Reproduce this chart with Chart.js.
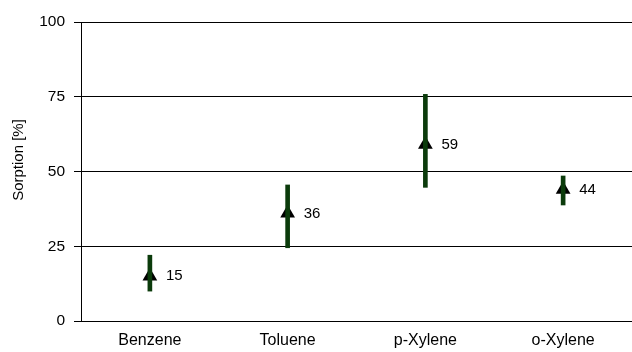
<!DOCTYPE html>
<html>
<head>
<meta charset="utf-8">
<script src="https://cdn.jsdelivr.net/npm/chart.js@4/dist/chart.umd.min.js"></script>
<style>
  body { margin: 0; background: #fff; }
  canvas { display: block; }
</style>
</head>
<body>
<canvas id="sorptionChart" width="632" height="352"></canvas>
<script>
// data
const categories = ["Benzene", "Toluene", "p-Xylene", "o-Xylene"];
const meanValues = [15, 36, 59, 44];
const rangeLow = [10, 24.5, 44.7, 38.8];
const rangeHigh = [22, 45.5, 75.8, 48.5];
const yTicks = [0, 25, 50, 75, 100];
const yTitle = "Sorption [%]";

const FONT = "'Liberation Sans', Arial, sans-serif";
const green = "#0b3b0b";

// value labels next to the triangles + rotated axis title
const extras = {
  id: "extras",
  afterDatasetsDraw(chart) {
    const ctx = chart.ctx;
    const meta = chart.getDatasetMeta(1);
    ctx.save();
    ctx.font = "15px " + FONT;
    ctx.fillStyle = "#000";
    ctx.textBaseline = "middle";
    ctx.textAlign = "left";
    meta.data.forEach((pt, i) => {
      ctx.fillText(String(meanValues[i]), pt.x + 16, pt.y);
    });
    // y axis title
    ctx.translate(19, 160);
    ctx.rotate(-Math.PI / 2);
    ctx.textAlign = "center";
    ctx.fillText(yTitle, 0, 0);
    ctx.restore();
  }
};

const ranges = categories.map((c, i) => [rangeLow[i], rangeHigh[i]]);

new Chart(document.getElementById("sorptionChart"), {
  type: "bar",
  data: {
    labels: categories,
    datasets: [
      {
        label: "Range",
        data: ranges,
        backgroundColor: green,
        borderWidth: 0,
        borderSkipped: false,
        barThickness: 4
      },
      {
        type: "line",
        label: "Mean",
        data: meanValues,
        showLine: false,
        pointStyle: "triangle",
        pointRadius: 8.5,
        pointBackgroundColor: "#000",
        pointBorderColor: "#000",
        pointBorderWidth: 0
      }
    ]
  },
  options: {
    responsive: false,
    animation: false,
    layout: { autoPadding: false, padding: { top: 22, right: 0, bottom: 0, left: 0 } },
    plugins: {
      legend: { display: false },
      tooltip: { enabled: false }
    },
    scales: {
      x: {
        grid: { display: false, drawTicks: false },
        border: { display: true, color: "#000", width: 1 },
        ticks: { color: "#000", font: { family: FONT, size: 16 }, padding: 10, maxRotation: 0 },
        afterFit(scale) { scale.height = 31; }
      },
      y: {
        min: 0,
        max: 100,
        afterBuildTicks(scale) { scale.ticks = yTicks.map(v => ({ value: v })); },
        grid: { color: "#000", lineWidth: 1, drawTicks: true, tickLength: 7 },
        border: { display: true, color: "#000", width: 1 },
        ticks: { color: "#000", font: { family: FONT, size: 15.5 }, padding: 9 },
        afterFit(scale) { scale.width = 81; }
      }
    }
  },
  plugins: [extras]
});
</script>
</body>
</html>
